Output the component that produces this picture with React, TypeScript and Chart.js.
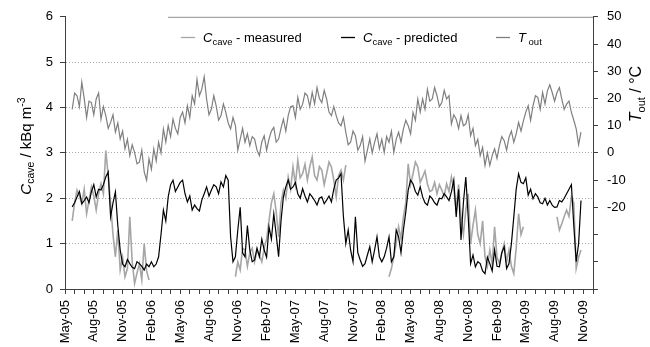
import React, { useEffect, useRef } from 'react';
import { Chart, registerables } from 'chart.js';

Chart.register(...registerables);

// x axis unit: months since 1 May 2005
const START_MONTH = 0.75;
const STEP_MONTH = 0.25;
const X_MAX = 55;

const tickLabels = [
  'May-05', 'Aug-05', 'Nov-05', 'Feb-06', 'May-06', 'Aug-06', 'Nov-06', 'Feb-07', 'May-07', 'Aug-07',
  'Nov-07', 'Feb-08', 'May-08', 'Aug-08', 'Nov-08', 'Feb-09', 'May-09', 'Aug-09', 'Nov-09',
];
const leftTicks = [0, 1, 2, 3, 4, 5, 6];
const rightTicks = [-50, -40, -30, -20, -10, 0, 10, 20, 30, 40, 50];
const rightLabelMin = -20;

// T_out (°C)
const tOut = [
  16, 22, 21, 17, 26, 20, 13, 19, 18.5, 14,
  19.8, 22, 12.4, 17, 13.7, 9, 11.2, 14, 7.6, 11,
  5.1, 8, 1.5, 5, -1, 3, 0.2, -4, -3.4, 1,
  -7, -10, -2.2, -6, 1.5, -3, 3.9, 0, 8.8, 4,
  10, 6, 12.4, 9, 7, 13, 15, 11, 17.3, 13,
  21, 18, 27, 21, 23.4, 28, 19.8, 14, 16.1, 21,
  17.3, 12, 13.7, 18, 14.9, 11, 8.8, 13, 10, 1,
  5.1, 9, 3.9, 7, 2.7, 6, 5.1, 1, -1, 4,
  6.3, 1, 5.1, 8, 9.4, 4, 5.1, 9, 12.4, 8,
  13.7, 17, 17.3, 13, 20.4, 16, 17.9, 22, 21, 17,
  22.2, 18, 24, 20, 18.5, 23, 19.8, 15, 13.7, 17,
  13.7, 11, 10, 13, 7.6, 3, 3.9, 8, 6.3, 1,
  2.7, 6, -3, 1, 5.1, 0, 3.9, 7, 1.5, 5,
  0.2, 6, 3.9, 8, 0.2, 5, 7.6, 4, 8.8, 12,
  10, 7, 14.9, 12, 19.8, 15, 19.8, 16, 23.4, 19,
  19.8, 24, 21, 17, 18.5, 23, 19.8, 21, 10.6, 14,
  12.4, 9, 13.7, 10, 10.6, 14, 6.3, 9, 2.7, 5,
  -1, 2, -4.6, 0, -4.6, -1, 1.5, -2, 2.7, 6,
  4.5, 1, 5.7, 8, 3.9, 7, 11.2, 8, 11.8, 15,
  17.3, 12, 17.3, 21, 20.4, 16, 22.2, 18, 22.8, 25,
  22.2, 19, 22.2, 24, 19.8, 16, 17.9, 19, 14.9, 12,
  8.8, 3, 7.6,
];

// C_cave measured (kBq m^-3)
const measured: (number | null)[] = [
  1.5, 1.9, 2.18, 2.05, 1.88, 2.2, 1.66, 1.95, 2.25, 2.05,
  1.74, 2.1, 2.32, 2.1, 3.05, 2.5, 1.88, 1.2, 0.71, 1.3,
  0.42, 0.7, 0.27, 0.45, 1.59, 0.6, 0.12, 0.35, 0.56, 0.2,
  1.0, 0.4, 0.2, null, null, null, null, null, null, null,
  null, null, null, null, null, null, null, null, null, null,
  null, null, null, null, null, null, null, null, null, null,
  null, null, null, null, null, null, null, null, 0.27, 0.6,
  0.42, 0.9, 0.86, 0.5, 0.8, 0.9, 0.6, 0.85, 0.75, 0.6,
  0.9, 1.1, 1.5, 1.9, 2.1, 1.7, 1.15, 1.9, 2.18, 2.0,
  2.47, 2.2, 2.69, 2.3, 2.84, 2.45, 2.54, 2.75, 2.4, 2.7,
  2.91, 2.5, 2.4, 2.7, 2.62, 2.3, 2.54, 2.8, 2.69, 2.4,
  2.03, 2.5, 2.62, 2.4, 2.73, null, null, null, null, null,
  null, null, null, null, null, null, null, null, null, null,
  null, null, 0.27, 0.45, 0.71, 1.0, 1.37, 1.1, 1.59, 1.9,
  2.76, 2.3, 2.54, 2.8, 2.69, 2.35, 2.47, 2.6, 2.32, 2.15,
  2.18, 2.35, 2.1, 2.3, 2.18, 2.05, 2.32, 2.15, 2.47, 2.2,
  1.74, 2.3, 1.59, 1.2, 1.74, 2.1, 1.0, 1.4, 1.74, 1.2,
  1.0, 1.5, 0.71, 0.5, 0.86, 0.55, 1.37, 0.7, 0.56, 0.8,
  1.0, 0.6, 0.86, 0.5, 0.34, 0.9, 1.66, 1.2, 1.37, null,
  null, null, null, null, null, null, null, null, null, null,
  null, null, 1.59, 1.3, 1.44, 1.6, 1.74, 1.6, 2.03, 1.9,
  0.45, 0.7, 0.86,
];

// C_cave predicted (kBq m^-3)
const predicted = [
  1.81, 1.9, 2.03, 2.15, 1.88, 1.95, 2.03, 1.9, 2.14, 2.3,
  2.03, 2.2, 2.18, 2.3, 2.47, 2.58, 1.59, 1.9, 2.14, 1.4,
  0.86, 0.55, 0.49, 0.65, 0.56, 0.48, 0.45, 0.6, 0.56, 0.5,
  0.42, 0.55, 0.49, 0.6, 0.49, 0.55, 0.71, 1.2, 1.74, 1.5,
  2.03, 2.3, 2.4, 2.15, 2.25, 2.35, 2.4, 2.1, 1.92, 2.05,
  1.74, 1.85, 1.77, 1.72, 1.96, 2.1, 2.25, 2.05, 2.18, 2.3,
  2.25, 2.1, 2.36, 2.25, 2.5, 2.4, 1.15, 0.6, 0.71, 1.3,
  1.8, 0.8, 0.71, 1.4, 0.86, 0.6, 0.64, 0.9, 0.71, 1.1,
  0.86, 0.7, 1.37, 1.1, 1.66, 1.2, 0.71, 1.5, 2.03, 2.25,
  2.4, 2.2, 2.25, 2.35, 2.1, 2.0, 2.21, 2.05, 1.92, 2.1,
  2.03, 1.95, 1.85, 2.0, 2.03, 1.88, 1.96, 2.05, 1.92, 2.2,
  2.4, 2.45, 2.54, 1.6, 1.0, 1.3, 0.86, 0.6, 1.59, 0.8,
  0.64, 0.5, 0.56, 0.75, 0.93, 0.6, 0.86, 1.15, 0.71, 0.6,
  0.71, 0.9, 1.15, 0.6, 0.71, 1.3, 1.15, 0.8, 1.3, 1.7,
  2.18, 2.4, 2.32, 2.15, 2.07, 2.25, 2.03, 1.9, 1.85, 2.05,
  1.99, 1.9, 1.85, 2.0, 1.99, 2.1, 2.03, 1.95, 2.14, 2.4,
  1.59, 2.2, 1.08, 1.9, 2.47, 1.6, 0.56, 0.75, 0.49, 0.6,
  0.56, 0.4, 0.34, 0.7, 0.56, 0.4, 0.86, 0.5, 0.49, 0.8,
  0.93, 0.45, 0.56, 1.0, 1.59, 2.2, 2.54, 2.35, 2.32, 2.45,
  2.07, 2.2, 1.99, 2.1, 2.03, 1.9, 1.88, 2.0, 1.85, 1.95,
  1.85, 1.8, 1.81, 1.95, 1.92, 2.0, 2.1, 2.2, 2.3, 1.4,
  0.6, 1.0, 1.95,
];

const months = tOut.map((_, i) => START_MONTH + STEP_MONTH * i);
const monthTicks = Array.from({ length: X_MAX + 1 }, (_, i) => i);

const FONT = '"Liberation Sans", Arial, sans-serif';
const COL_MEAS = '#a6a6a6';
const COL_PRED = '#000000';
const COL_TOUT = '#7f7f7f';
const AXIS_COL = '#404040';

type Seg = { t: string; size: number; dy?: number; italic?: boolean };

function drawRich(ctx: CanvasRenderingContext2D, segs: Seg[], x: number, y: number, rot: number, align: 'left' | 'center') {
  ctx.save();
  ctx.translate(x, y);
  ctx.rotate(rot);
  ctx.textAlign = 'left';
  ctx.textBaseline = 'alphabetic';
  ctx.fillStyle = '#000';
  const fontOf = (s: Seg) => `${s.italic ? 'italic ' : ''}${s.size}px ${FONT}`;
  let w = 0;
  segs.forEach((s) => { ctx.font = fontOf(s); w += ctx.measureText(s.t).width; });
  let cx = align === 'center' ? -w / 2 : 0;
  segs.forEach((s) => {
    ctx.font = fontOf(s);
    ctx.fillText(s.t, cx, s.dy || 0);
    cx += ctx.measureText(s.t).width;
  });
  ctx.restore();
}

const decorPlugin = {
  id: 'decor',
  afterDraw(chart: any) {
    const ctx: CanvasRenderingContext2D = chart.ctx;
    const a = chart.chartArea;
    ctx.save();
    ctx.strokeStyle = '#909090';
    ctx.lineWidth = 1;
    ctx.beginPath();
    ctx.moveTo(168, a.top + 0.5);
    ctx.lineTo(a.right, a.top + 0.5);
    ctx.stroke();
    ctx.restore();

    drawRich(ctx, [
      { t: 'C', size: 15, italic: true },
      { t: 'cave', size: 10.5, dy: 3.5 },
      { t: ' / kBq m', size: 15 },
      { t: '-3', size: 10.5, dy: -6 },
    ], 30.5, 146, -Math.PI / 2, 'center');
    drawRich(ctx, [
      { t: 'T', size: 16, italic: true },
      { t: 'out', size: 11, dy: 3.5 },
      { t: ' / °C', size: 16 },
    ], 641, 94, -Math.PI / 2, 'center');

    const items = [
      { color: COL_MEAS, x: 181, segs: [{ t: 'C', size: 13, italic: true }, { t: 'cave', size: 9.5, dy: 3 }, { t: ' - measured', size: 13 }] },
      { color: COL_PRED, x: 341, segs: [{ t: 'C', size: 13, italic: true }, { t: 'cave', size: 9.5, dy: 3 }, { t: ' - predicted', size: 13 }] },
      { color: COL_TOUT, x: 496, segs: [{ t: 'T', size: 13, italic: true }, { t: ' out', size: 9.5, dy: 3 }] },
    ];
    items.forEach((it) => {
      ctx.save();
      ctx.strokeStyle = it.color;
      ctx.lineWidth = 1.3;
      ctx.beginPath();
      ctx.moveTo(it.x, 37.5);
      ctx.lineTo(it.x + 14, 37.5);
      ctx.stroke();
      ctx.restore();
      drawRich(ctx, it.segs as Seg[], it.x + 22, 42, 0, 'left');
    });
  },
};

export default function App() {
  const ref = useRef<HTMLCanvasElement>(null);
  useEffect(() => {
    document.body.style.margin = '0';
    const canvas = ref.current;
    if (!canvas) return;
    const pts = (arr: (number | null)[]) => arr.map((v, i) => ({ x: months[i], y: v }));
    const chart = new Chart(canvas, {
      type: 'line',
      data: {
        datasets: [
          { label: 'C cave - predicted', data: pts(predicted) as any, borderColor: COL_PRED, borderWidth: 1.2, order: 0, yAxisID: 'y' },
          { label: 'C cave - measured', data: pts(measured) as any, borderColor: COL_MEAS, borderWidth: 1.6, order: 1, yAxisID: 'y' },
          { label: 'T out', data: pts(tOut) as any, borderColor: COL_TOUT, borderWidth: 1.2, order: 2, yAxisID: 'y1' },
        ],
      },
      options: {
        responsive: false,
        animation: false,
        devicePixelRatio: 1,
        spanGaps: false,
        layout: { padding: { top: 16, left: 0, right: 0, bottom: 0 } },
        elements: { point: { radius: 0 }, line: { tension: 0 } },
        plugins: { legend: { display: false }, tooltip: { enabled: false } },
        scales: {
          x: {
            type: 'linear',
            min: 0,
            max: X_MAX,
            afterBuildTicks: (s: any) => { s.ticks = monthTicks.map((v) => ({ value: v })); },
            afterFit: (s: any) => { s.height = 58; },
            grid: { drawOnChartArea: false, tickLength: 5, tickColor: AXIS_COL, tickWidth: 1 },
            border: { color: AXIS_COL, width: 1 },
            ticks: {
              autoSkip: false,
              maxRotation: 90,
              minRotation: 90,
              padding: 6,
              color: '#000',
              font: { family: FONT, size: 13 },
              callback: (v: any) => (Number(v) % 3 === 0 ? tickLabels[Number(v) / 3] : ''),
            },
          },
          y: {
            position: 'left',
            min: 0,
            max: 6,
            afterBuildTicks: (s: any) => { s.ticks = leftTicks.map((v) => ({ value: v })); },
            afterFit: (s: any) => { s.width = 65; },
            grid: {
              color: (c: any) => (c.tick && c.tick.value > 0 && c.tick.value < 6 ? '#a8a8a8' : 'rgba(0,0,0,0)'),
              lineWidth: 1,
              tickLength: 5,
              tickColor: AXIS_COL,
              tickBorderDash: [],
            },
            border: { color: AXIS_COL, width: 1, dash: [1, 2] },
            ticks: { padding: 7, color: '#000', font: { family: FONT, size: 13 } },
          },
          y1: {
            position: 'right',
            min: -50,
            max: 50,
            afterBuildTicks: (s: any) => { s.ticks = rightTicks.map((v) => ({ value: v })); },
            afterFit: (s: any) => { s.width = 57; },
            grid: { drawOnChartArea: false, tickLength: 5, tickColor: AXIS_COL },
            border: { color: AXIS_COL, width: 1 },
            ticks: {
              padding: 9,
              color: '#000',
              font: { family: FONT, size: 13 },
              callback: (v: any) => (Number(v) >= rightLabelMin ? String(v) : ''),
            },
          },
        },
      },
      plugins: [decorPlugin],
    });
    return () => chart.destroy();
  }, []);
  return (
    <div style={{ width: 650, height: 347 }}>
      <canvas ref={ref} width={650} height={347} style={{ width: 650, height: 347, display: 'block' }} />
    </div>
  );
}
